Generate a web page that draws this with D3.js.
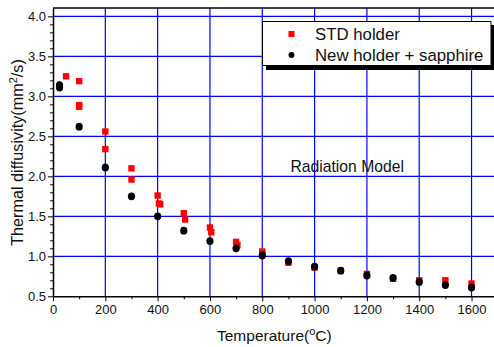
<!DOCTYPE html>
<html>
<head>
<meta charset="utf-8">
<script src="https://cdn.jsdelivr.net/npm/d3@7"></script>
<style>
  body { margin: 0; background: #fff; }
  text { font-family: "Liberation Sans", Arial, sans-serif; }
</style>
</head>
<body>
<script>
'use strict';

// STD holder (red squares)
const stdTemp = [50, 100, 100, 100, 200, 200, 300, 300, 400, 405, 410, 500, 505, 600, 605, 700, 705, 800, 800, 900, 1000, 1100, 1200, 1300, 1400, 1500, 1600];
const stdDiff = [3.25, 3.19, 2.89, 2.87, 2.56, 2.34, 2.10, 1.96, 1.76, 1.66, 1.65, 1.54, 1.46, 1.36, 1.30, 1.18, 1.14, 1.06, 1.03, 0.92, 0.86, 0.82, 0.78, 0.72, 0.70, 0.70, 0.66];

// New holder + sapphire (black circles)
const newTemp = [25, 25, 100, 200, 300, 400, 500, 600, 700, 800, 900, 1000, 1100, 1200, 1300, 1400, 1500, 1600];
const newDiff = [3.14, 3.11, 2.62, 2.11, 1.75, 1.50, 1.32, 1.19, 1.10, 1.01, 0.94, 0.87, 0.82, 0.76, 0.73, 0.68, 0.64, 0.61];

const xTicks = [0, 200, 400, 600, 800, 1000, 1200, 1400, 1600];
const yTicks = [0.5, 1.0, 1.5, 2.0, 2.5, 3.0, 3.5, 4.0];
const legendLabels = ["STD holder", "New holder + sapphire"];

(function () {
  const width = 494, height = 347;
  const pLeft = 53, pTop = 8, pBottom = 296.3, pRight = 497.7;

  const svg = d3.select('body').append('svg')
    .attr('width', width)
    .attr('height', height);

  const x = d3.scaleLinear().domain([0, 1700]).range([pLeft, pRight]);
  const y = d3.scaleLinear().domain([0.5, 4.104]).range([pBottom, pTop]);

  // grid lines
  svg.append('g').selectAll('line')
    .data(xTicks.slice(1))
    .enter().append('line')
    .attr('x1', d => x(d)).attr('x2', d => x(d))
    .attr('y1', pTop).attr('y2', pBottom)
    .attr('stroke', '#0000ff').attr('stroke-width', 1.2);

  svg.append('g').selectAll('line')
    .data(yTicks.slice(1))
    .enter().append('line')
    .attr('x1', pLeft).attr('x2', pRight)
    .attr('y1', d => y(d)).attr('y2', d => y(d))
    .attr('stroke', '#0000ff').attr('stroke-width', 1.2);

  // top frame
  svg.append('line')
    .attr('x1', pLeft).attr('x2', pRight)
    .attr('y1', pTop).attr('y2', pTop)
    .attr('stroke', '#000').attr('stroke-width', 1.5);

  // minor ticks
  const xMinor = d3.range(100, 1700, 200);
  const yMinor = d3.range(0.6, 4.1, 0.1).filter(v => Math.abs(v * 2 - Math.round(v * 2)) > 0.01);

  svg.append('g')
    .attr('transform', `translate(0,${pBottom})`)
    .call(d3.axisBottom(x).tickValues(xMinor).tickSize(3).tickFormat(''))
    .call(g => g.select('.domain').remove());
  svg.append('g')
    .attr('transform', `translate(${pLeft},0)`)
    .call(d3.axisLeft(y).tickValues(yMinor).tickSize(3).tickFormat(''))
    .call(g => g.select('.domain').remove());

  // major axes
  const xAxis = svg.append('g')
    .attr('transform', `translate(0,${pBottom})`)
    .call(d3.axisBottom(x).tickValues(xTicks).tickSize(5).tickSizeOuter(0).tickPadding(3).tickFormat(d3.format('d')));
  const yAxis = svg.append('g')
    .attr('transform', `translate(${pLeft},0)`)
    .call(d3.axisLeft(y).tickValues(yTicks).tickSize(5).tickSizeOuter(0).tickPadding(2).tickFormat(d3.format('.1f')));

  [xAxis, yAxis].forEach(g => {
    g.select('.domain').attr('stroke-width', 1.5);
    g.selectAll('text').style('font-size', '13px').attr('fill', '#111');
    g.selectAll('line').attr('stroke-width', 1);
  });

  // data points
  svg.append('g').selectAll('rect')
    .data(stdTemp.map((t, i) => [t, stdDiff[i]]))
    .enter().append('rect')
    .attr('x', d => x(d[0]) - 3.2)
    .attr('y', d => y(d[1]) - 3.2)
    .attr('width', 6.4).attr('height', 6.4)
    .attr('fill', '#ff0000');

  svg.append('g').selectAll('ellipse')
    .data(newTemp.map((t, i) => [t, newDiff[i]]))
    .enter().append('ellipse')
    .attr('cx', d => x(d[0]))
    .attr('cy', d => y(d[1]))
    .attr('rx', 3.6).attr('ry', 3.9)
    .attr('fill', '#000');

  // legend
  const lg = svg.append('g');
  lg.append('rect')
    .attr('x', 266).attr('y', 25).attr('width', 229).attr('height', 45)
    .attr('fill', '#000');
  lg.append('rect')
    .attr('x', 262.5).attr('y', 21.5).attr('width', 228.5).attr('height', 44)
    .attr('fill', '#fff').attr('stroke', '#000').attr('stroke-width', 1);
  lg.append('rect')
    .attr('x', 288.5).attr('y', 31).attr('width', 6).attr('height', 6)
    .attr('fill', '#ff0000');
  lg.append('circle')
    .attr('cx', 291.5).attr('cy', 55).attr('r', 3)
    .attr('fill', '#000');
  lg.selectAll('text')
    .data(legendLabels)
    .enter().append('text')
    .attr('x', 315)
    .attr('y', (d, i) => 39.5 + i * 21.5)
    .style('font-size', '16.8px')
    .attr('fill', '#111')
    .text(d => d);

  // annotation
  svg.append('text')
    .attr('x', 290.5).attr('y', 171.5)
    .style('font-size', '15.7px')
    .attr('fill', '#111')
    .text('Radiation Model');

  // axis titles
  const yt = svg.append('text')
    .attr('transform', `translate(23,152.5) rotate(-90)`)
    .attr('text-anchor', 'middle')
    .style('font-size', '16.2px')
    .attr('fill', '#111');
  yt.append('tspan').text('Thermal diffusivity(mm');
  yt.append('tspan').attr('dy', -6).style('font-size', '11px').text('2');
  yt.append('tspan').attr('dy', 6).text('/s)');

  const xt = svg.append('text')
    .attr('x', (pLeft + pRight) / 2 - 1).attr('y', 341)
    .attr('text-anchor', 'middle')
    .style('font-size', '15.5px')
    .attr('fill', '#111');
  xt.append('tspan').text('Temperature(');
  xt.append('tspan').attr('dy', -6).style('font-size', '11px').text('o');
  xt.append('tspan').attr('dy', 6).text('C)');
})();
</script>
</body>
</html>
